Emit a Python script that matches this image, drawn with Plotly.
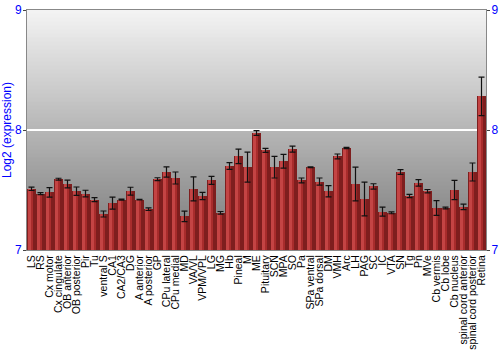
import plotly.graph_objects as go

categories = ["LS", "RS", "Cx motor", "Cx cingulate", "OB anterior", "OB posterior", "Pir", "Tu",
              "ventral S", "CA1", "CA2/CA3", "DG", "A anterior", "A posterior", "GP", "CPu lateral",
              "CPu medial", "MD", "VA/VL", "VPM/VPL", "LG", "MG", "Hb", "Pineal", "M", "ME",
              "Pituitary", "SCN", "MPA", "SO", "Pa", "SPa ventral", "SPa dorsal", "DM", "VMH", "Arc",
              "LH", "PAG", "SC", "IC", "VTA", "SN", "Tg", "Pn", "MVe", "Cb vermis", "Cb lobe",
              "Cb nucleus", "spinal cord anterior", "spinal cord posterior", "Retina"]
values = [7.51, 7.47, 7.48, 7.59, 7.55, 7.49, 7.47, 7.42,
          7.30, 7.39, 7.42, 7.49, 7.42, 7.34, 7.59, 7.65,
          7.60, 7.28, 7.51, 7.45, 7.58, 7.31, 7.70, 7.78, 7.69, 7.975,
          7.83, 7.69, 7.74, 7.84, 7.58, 7.69, 7.57, 7.49, 7.78, 7.85,
          7.55, 7.425, 7.53, 7.32, 7.31, 7.65, 7.45, 7.56, 7.49, 7.35, 7.35,
          7.50, 7.36, 7.65, 8.28]
errors = [0.014, 0.008, 0.04, 0.008, 0.033, 0.035, 0.028, 0.017,
          0.025, 0.05, 0.005, 0.033, 0.003, 0.011, 0.012, 0.042,
          0.05, 0.044, 0.10, 0.03, 0.033, 0.011, 0.028, 0.06, 0.125, 0.02,
          0.017, 0.09, 0.057, 0.025, 0.02, 0.003, 0.03, 0.047, 0.02, 0.006,
          0.14, 0.14, 0.022, 0.037, 0.008, 0.02, 0.014, 0.027, 0.014, 0.062, 0.008,
          0.08, 0.023, 0.075, 0.16]
y_ticks = [7, 8, 9]

BASE = 7
heights = [v - BASE for v in values]

fig = go.Figure()
# bars with horizontal shading (light left -> dark right), built from overlaid stripes
stripes = [(0.9, -0.45, "#7e1e1e"), (0.64, -0.44, "#a82c2c"), (0.36, -0.42, "#c44444")]
for w, off, col in stripes:
    fig.add_trace(go.Bar(x=categories, y=heights, base=BASE, width=w, offset=off,
                         marker=dict(color=col, line=dict(width=0)), hoverinfo="skip",
                         showlegend=False))
# error bars on top
fig.add_trace(go.Scatter(x=categories, y=values, mode="markers",
                         marker=dict(size=1, opacity=0),
                         error_y=dict(type="data", array=errors, color="#111111",
                                      thickness=1.2, width=3),
                         showlegend=False, hoverinfo="skip"))
# invisible trace for right axis
fig.add_trace(go.Scatter(x=categories[:1], y=[BASE], yaxis="y2", mode="markers",
                         marker=dict(opacity=0), showlegend=False, hoverinfo="skip"))

# vertical gradient background
n = 60
top = (244, 244, 244)
bot = (120, 120, 120)
shapes = []
for i in range(n):
    t = (i + 0.5) / n
    c = tuple(int(round(top[k] + (bot[k] - top[k]) * t)) for k in range(3))
    shapes.append(dict(type="rect", xref="paper", yref="paper", x0=0, x1=1,
                       y0=1 - (i + 1) / n, y1=1 - i / n + 0.002, layer="below",
                       fillcolor="rgb(%d,%d,%d)" % c, line=dict(width=0)))

axis_font = dict(family="Liberation Sans, Arial, sans-serif", size=12, color="#0000ff")
fig.update_layout(
    width=500, height=350,
    margin=dict(l=27, r=14, t=10, b=100),
    paper_bgcolor="white", plot_bgcolor="rgba(0,0,0,0)",
    barmode="overlay", bargap=0,
    shapes=shapes,
    font=dict(family="Liberation Sans, Arial, sans-serif"),
    xaxis=dict(type="category", tickangle=-90, tickfont=dict(size=10.5, color="black"),
               tickmode="array", tickvals=categories, ticktext=categories,
               showgrid=False, ticks="", showline=True, linecolor="#888888", mirror=True,
               range=[-0.5, len(categories) - 0.5], automargin=False),
    yaxis=dict(range=[7, 9], tickvals=y_ticks, tickfont=axis_font, ticks="outside",
               ticklen=3, tickcolor="#444444", showline=True, linecolor="#888888",
               showgrid=True, gridcolor="white", gridwidth=1.5, zeroline=False,
               automargin=False, ticklabelstandoff=-1,
               title=dict(text="Log2 (expression)", font=axis_font, standoff=2)),
    yaxis2=dict(range=[7, 9], tickvals=y_ticks, tickfont=axis_font, ticks="outside",
                ticklen=3, tickcolor="#444444", overlaying="y", side="right",
                automargin=False, ticklabelstandoff=-1,
                showgrid=False, zeroline=False, showline=True, linecolor="#888888"),
)

fig.write_html("out.html")
